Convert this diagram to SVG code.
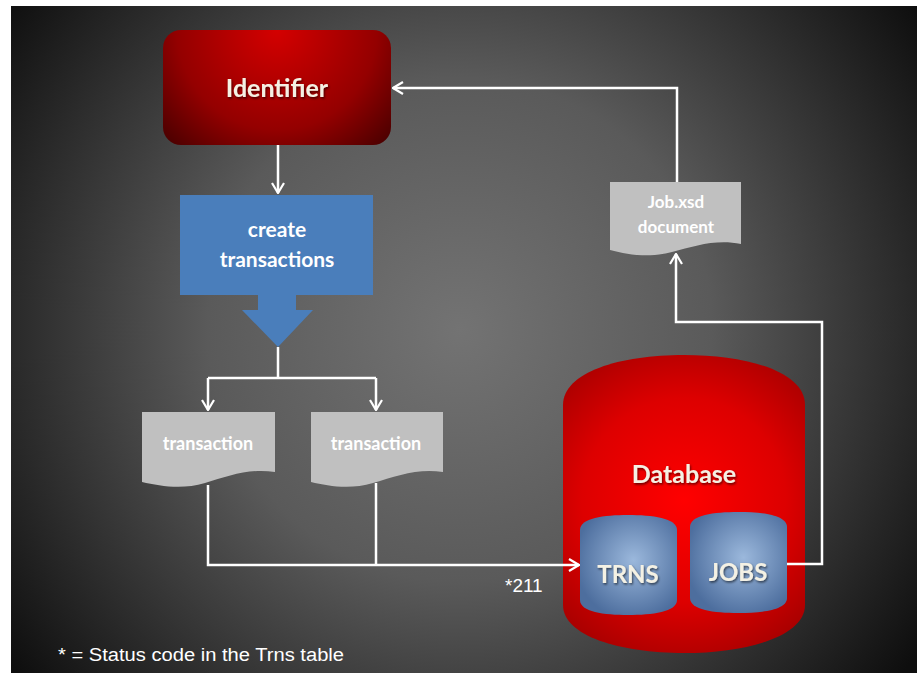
<svg xmlns="http://www.w3.org/2000/svg" width="917" height="673" viewBox="0 0 917 673">
<defs>
<radialGradient id="bg" cx="460" cy="330" r="560" gradientUnits="userSpaceOnUse">
<stop offset="0" stop-color="#737373"/>
<stop offset="0.45" stop-color="#5a5a5a"/>
<stop offset="1" stop-color="#0e0e0e"/>
</radialGradient>
<radialGradient id="idg" cx="277" cy="30" r="200" gradientUnits="userSpaceOnUse">
<stop offset="0" stop-color="#d40000"/>
<stop offset="0.5" stop-color="#940000"/>
<stop offset="1" stop-color="#140000"/>
</radialGradient>
<radialGradient id="dbg" cx="684" cy="500" r="170" gradientUnits="userSpaceOnUse">
<stop offset="0" stop-color="#ff0000"/>
<stop offset="0.6" stop-color="#dd0000"/>
<stop offset="1" stop-color="#a80000"/>
</radialGradient>
<radialGradient id="blg" cx="0.55" cy="0.45" r="0.6">
<stop offset="0" stop-color="#9bb8dc"/>
<stop offset="1" stop-color="#4d6e9e"/>
</radialGradient>
<filter id="ts" x="-10%" y="-20%" width="130%" height="150%">
<feDropShadow dx="1" dy="1.5" stdDeviation="0.8" flood-color="#000" flood-opacity="0.6"/>
</filter>
<marker id="ah" viewBox="0 0 12 14" refX="11" refY="7" markerWidth="12" markerHeight="14" markerUnits="userSpaceOnUse" orient="auto">
<path d="M1,1 L11,7 L1,13" fill="none" stroke="#fff" stroke-width="2.2"/>
</marker>
<style>
.lbl{font-family:Lato,"Open Sans","Liberation Sans",sans-serif;font-weight:bold;text-anchor:middle;fill:#f4f1e4}
.doc{fill:#c0c0c0}
.doct{font-family:Lato,"Open Sans","Liberation Sans",sans-serif;font-weight:bold;text-anchor:middle;fill:#ffffff}
.con{fill:none;stroke:#ffffff;stroke-width:2.5}
.note{font-family:"Liberation Sans",Arial,sans-serif;fill:#ffffff}
</style>
</defs>
<rect x="0" y="0" width="917" height="673" fill="#ffffff"/>
<rect x="11" y="6" width="906" height="667" fill="url(#bg)"/>

<g id="identifier">
<rect x="163" y="30" width="228" height="115" rx="18" fill="url(#idg)"/>
<text class="lbl" x="277" y="97" font-size="25" filter="url(#ts)">Identifier</text>
</g>

<g id="create-transactions">
<rect x="180" y="195" width="193" height="100" fill="#4a7ebb"/>
<path d="M258,294 H296 V310 H313 L278,347 L242,310 H258 Z" fill="#4a7ebb"/>
<text class="doct" x="277" y="237" font-size="21">create</text>
<text class="doct" x="277" y="267" font-size="21">transactions</text>
</g>

<g id="transaction-1">
<path class="doc" d="M142,412 H275 V472 C250,468 228,476 205,483 C182,490 160,486 142,482 Z"/>
<text class="doct" x="208" y="450" font-size="18">transaction</text>
</g>

<g id="transaction-2">
<path class="doc" d="M311,412 H443 V472 C418,468 396,476 373,483 C350,490 328,486 311,482 Z"/>
<text class="doct" x="376" y="450" font-size="18">transaction</text>
</g>

<g id="job-xsd-document">
<path class="doc" d="M610,182 H741 V244 C716,239 695,246 672,252 C650,258 628,255 610,250 Z"/>
<text class="doct" x="676" y="208" font-size="17">Job.xsd</text>
<text class="doct" x="676" y="233" font-size="17">document</text>
</g>

<g id="database">
<path d="M563,405 C563,372 620,355 684,355 C748,355 805,372 805,405 V605 C805,636 748,653 684,653 C620,653 563,636 563,605 Z" fill="url(#dbg)"/>
<text class="lbl" x="684" y="483" font-size="25" filter="url(#ts)">Database</text>
</g>

<g id="trns">
<path d="M580,530 C580,518 604,515 628,515 C652,515 677,518 677,530 V600 C677,612 652,615 628,615 C604,615 580,612 580,600 Z" fill="url(#blg)"/>
<text class="lbl" x="628" y="583" font-size="24" filter="url(#ts)">TRNS</text>
</g>

<g id="jobs">
<path d="M690,527 C690,515 714,512 738,512 C762,512 787,515 787,527 V598 C787,610 762,613 738,613 C714,613 690,610 690,598 Z" fill="url(#blg)"/>
<text class="lbl" x="738" y="581" font-size="24" filter="url(#ts)">JOBS</text>
</g>

<g id="connectors">
<path class="con" d="M278,145 V193" marker-end="url(#ah)"/>
<path class="con" d="M278,347 V378 M208,378 H376"/>
<path class="con" d="M208,378 V410" marker-end="url(#ah)"/>
<path class="con" d="M376,378 V410" marker-end="url(#ah)"/>
<path class="con" d="M208,485 V565 H579" marker-end="url(#ah)"/>
<path class="con" d="M376,483 V565"/>
<path class="con" d="M787,564 H822 V322 H676 V254" marker-end="url(#ah)"/>
<path class="con" d="M677,182 V88 H393" marker-end="url(#ah)"/>
</g>

<text class="note" x="505" y="592" font-size="19">*211</text>
<text class="note" x="58" y="661" font-size="18" textLength="286" lengthAdjust="spacingAndGlyphs">* = Status code in the Trns table</text>
</svg>
